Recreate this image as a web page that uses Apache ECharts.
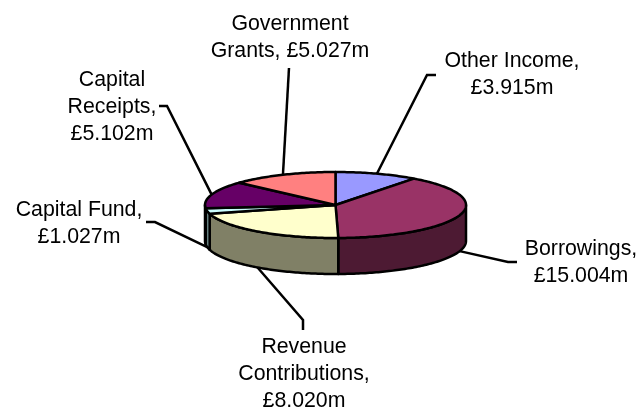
<!DOCTYPE html>
<html>
<head>
<meta charset="utf-8">
<style>html,body{margin:0;padding:0;background:#fff}#chart{width:639px;height:407px}</style>
<script src="https://cdn.jsdelivr.net/npm/echarts@6/dist/echarts.min.js"></script>
</head>
<body>
<div id="chart"></div>
<script>
// Funding sources, in £m, clockwise from twelve o'clock
const categories = ['Other Income', 'Borrowings', 'Revenue Contributions', 'Capital Fund', 'Capital Receipts', 'Government Grants'];
const values = [3.915, 15.004, 8.020, 1.027, 5.102, 5.027];
const labelBreaks = [
  'Other Income,\n£3.915m',
  'Borrowings,\n£15.004m',
  'Revenue\nContributions,\n£8.020m',
  'Capital Fund,\n£1.027m',
  'Capital\nReceipts,\n£5.102m',
  'Government\nGrants, £5.027m'
];
const topColors = ['#9999FF', '#993366', '#FFFFCC', '#CCFFFF', '#660066', '#FF8080'];
const sideColors = ['#4D4D80', '#4D1A33', '#808066', '#668080', '#330033', '#804040'];

// Projected pie: centre, radii of the top ellipse and wall height
const pie = { cx: 335.5, cy: 205, rx: 130.5, ry: 33, depth: 36 };
// Label centres and leader-line elbows
const labelAt = [[512, 75], [581, 263], [304, 374], [79, 224], [112, 107], [290, 37.5]];
const elbows = [
  [[427, 75], [436, 75]],
  [[508, 262], [517, 262]],
  [[303, 320], [303, 330]],
  [[155, 222], [146, 222]],
  [[167, 106], [159, 106]],
  [[289, 68]]
];

const total = values.reduce((a, b) => a + b, 0);
const rim = (deg, drop) => {
  const r = deg * Math.PI / 180;
  return [pie.cx + pie.rx * Math.sin(r), pie.cy - pie.ry * Math.cos(r) + (drop || 0)];
};
const arc = (from, to, drop) => {
  const pts = [];
  const n = Math.max(2, Math.ceil(Math.abs(to - from)));
  for (let i = 0; i <= n; i++) pts.push(rim(from + (to - from) * i / n, drop));
  return pts;
};
const spans = [];
values.reduce((acc, v) => {
  const next = acc + v / total * 360;
  spans.push([acc, next]);
  return next;
}, 0);

const edge = { stroke: '#000', lineWidth: 2.5, lineJoin: 'round' };

// Front walls, visible only between 90° and 270°
function renderWalls(params, api) {
  const i = api.value(0);
  const a = Math.max(spans[i][0], 90), b = Math.min(spans[i][1], 270);
  if (b <= a) return { type: 'group', children: [] };
  return {
    type: 'polygon',
    shape: { points: arc(a, b, 0).concat(arc(b, a, pie.depth)) },
    style: Object.assign({ fill: sideColors[i] }, edge)
  };
}

function renderTops(params, api) {
  const i = api.value(0);
  return {
    type: 'polygon',
    shape: { points: [[pie.cx, pie.cy]].concat(arc(spans[i][0], spans[i][1], 0)) },
    style: Object.assign({ fill: topColors[i] }, edge)
  };
}

// Labels and leaders; back slices leave from the top rim, front ones from the bottom rim
function renderLabels(params, api) {
  const i = api.value(0);
  const mid = (spans[i][0] + spans[i][1]) / 2;
  const front = mid > 90 && mid < 270;
  const start = rim(mid, front ? pie.depth : 0);
  return {
    type: 'group',
    children: [
      {
        type: 'polyline',
        shape: { points: [start].concat(elbows[i]) },
        style: { stroke: '#000', lineWidth: 2.5, fill: null }
      },
      {
        type: 'text',
        style: {
          x: labelAt[i][0], y: labelAt[i][1], text: labelBreaks[i],
          align: 'center', verticalAlign: 'middle',
          fontFamily: '"Liberation Sans", Arial, sans-serif', fontSize: 21.3, lineHeight: 27,
          fill: '#000'
        }
      }
    ]
  };
}

const rows = values.map((v, i) => ({ name: categories[i], value: [i, v] }));
const chart = echarts.init(document.getElementById('chart'), null, { renderer: 'canvas' });
chart.setOption({
  animation: false,
  backgroundColor: '#fff',
  series: [
    { type: 'custom', coordinateSystem: 'none', z: 1, data: rows, renderItem: renderLabels, silent: true },
    { type: 'custom', coordinateSystem: 'none', z: 2, data: rows, renderItem: renderWalls, silent: true },
    { type: 'custom', coordinateSystem: 'none', z: 3, data: rows, renderItem: renderTops, silent: true }
  ]
});
</script>
</body>
</html>
